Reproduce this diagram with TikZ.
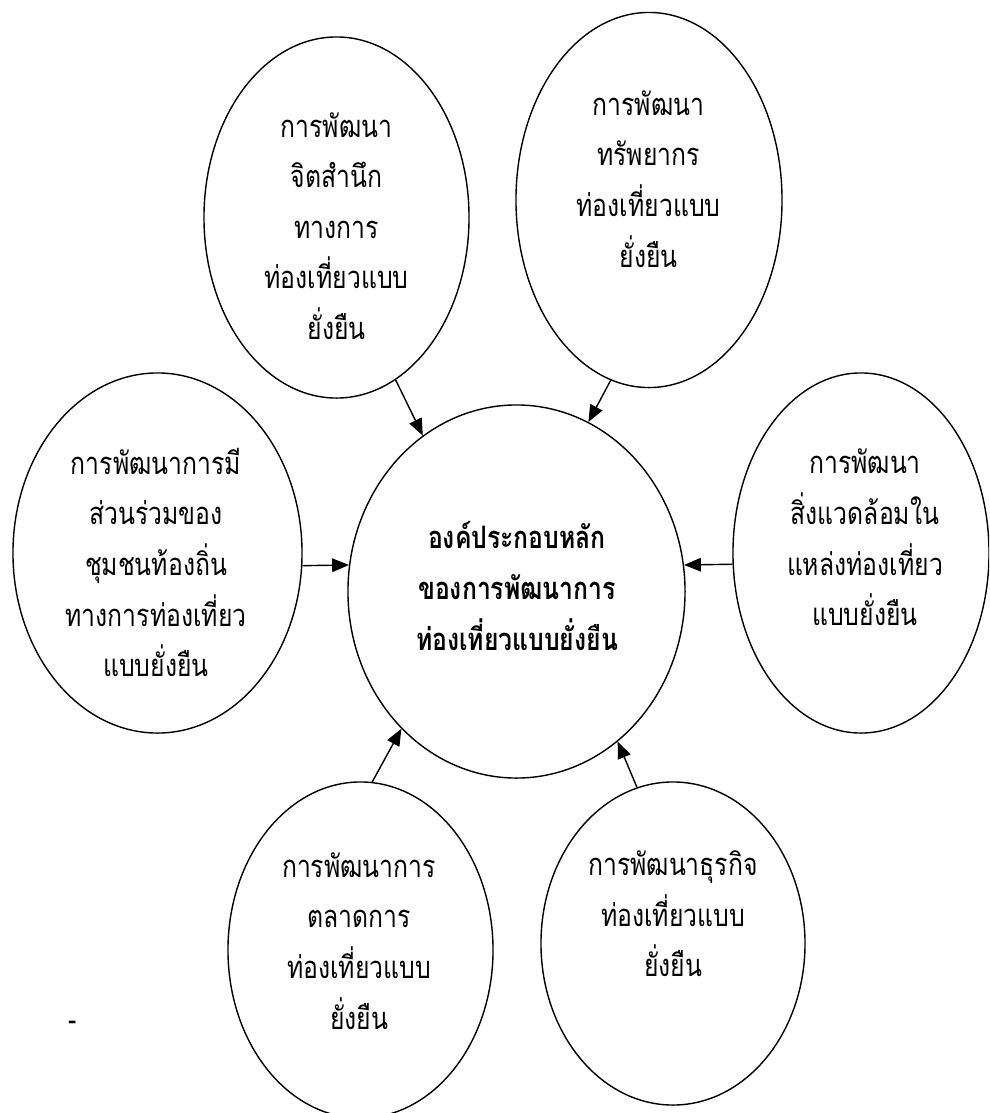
\documentclass[tikz,border=0pt]{standalone}
\usepackage{fontspec}
\newfontfamily\thaifont[Script=Thai, FakeStretch=0.8]{Loma}
\usetikzlibrary{shapes.geometric, arrows.meta}

\begin{document}
\begin{tikzpicture}[x=0.025cm, y=-0.025cm,
    bubble/.style={draw, ellipse, line width=1pt, inner sep=0pt},
    bubbletext/.style={align=center, font=\thaifont\fontsize{22}{36}\selectfont},
    link/.style={-{Triangle[length=0.42cm, width=0.34cm]}, line width=1pt}]
        \useasboundingbox (0,0) rectangle (989,1113);
        \clip (0,0) rectangle (989,1113);

        \node[bubble, minimum width=8.425cm, minimum height=9.325cm] (c) at (516.5,591.5) {};
        \node[bubble, minimum width=6.625cm, minimum height=9.025cm] (tl) at (336.5,217.5) {};
        \node[bubble, minimum width=6.65cm, minimum height=9.375cm] (tr) at (649,200) {};
        \node[bubble, minimum width=7.225cm, minimum height=9cm] (l) at (157.5,553) {};
        \node[bubble, minimum width=6.4cm, minimum height=9cm] (r) at (861,553) {};
        \node[bubble, minimum width=6.625cm, minimum height=8.4cm] (bl) at (360.5,950) {};
        \node[bubble, minimum width=6.6cm, minimum height=8.075cm] (br) at (673,943.5) {};

        \node[bubbletext, font=\thaifont\bfseries\fontsize{22}{36}\selectfont] (c-txt) at (517,586)
            {องค์ประกอบหลัก\\ของการพัฒนาการ\\ท่องเที่ยวแบบยั่งยืน};
        \node[bubbletext] (tl-txt) at (336.5,226) {การพัฒนา\\จิตสำนึก\\ทางการ\\ท่องเที่ยวแบบ\\ยั่งยืน};
        \node[bubbletext] (tr-txt) at (648.5,179) {การพัฒนา\\ทรัพยากร\\ท่องเที่ยวแบบ\\ยั่งยืน};
        \node[bubbletext] (l-txt) at (156,562.5) {การพัฒนาการมี\\ส่วนร่วมของ\\ชุมชนท้องถิ่น\\ทางการท่องเที่ยว\\แบบยั่งยืน};
        \node[bubbletext] (r-txt) at (865,537.5) {การพัฒนา\\สิ่งแวดล้อมใน\\แหล่งท่องเที่ยว\\แบบยั่งยืน};
        \node[bubbletext] (bl-txt) at (359,941) {การพัฒนาการ\\ตลาดการ\\ท่องเที่ยวแบบ\\ยั่งยืน};
        \node[bubbletext] (br-txt) at (673,914) {การพัฒนาธุรกิจ\\ท่องเที่ยวแบบ\\ยั่งยืน};
        \node[bubbletext] (dash) at (73,1026) {-};

        \draw[link] (tl.-70) -- (c.121);
        \draw[link] (tr.-102) -- (c.67);
        \draw[link] (l.-5) -- (c.171);
        \draw[link] (r.-175) -- (c.9);
        \draw[link] (bl.86) -- (c.-130);
        \draw[link] (br.103) -- (c.-56);
\end{tikzpicture}
\end{document}
